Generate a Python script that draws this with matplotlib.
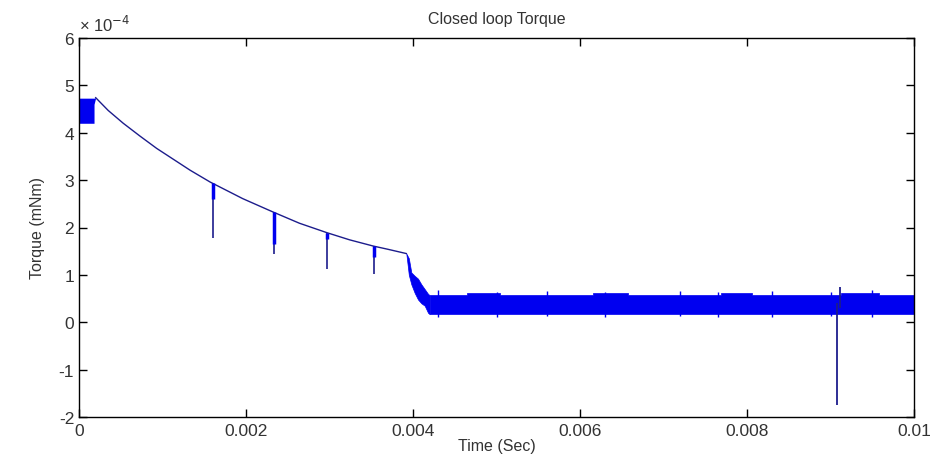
import matplotlib
matplotlib.use("Agg")
import matplotlib.pyplot as plt

plt.rcParams['font.family'] = ['Liberation Sans', 'DejaVu Sans']
plt.rcParams['axes.unicode_minus'] = False

# ---- data (torque in units of 1e-4) ----
decay_t = [0.0002, 0.00035, 0.00053, 0.00073, 0.00093, 0.00113, 0.00133, 0.00157,
           0.00196, 0.00232, 0.00264, 0.00297, 0.00324, 0.00352, 0.00370, 0.00392]
decay_v = [4.74, 4.47, 4.20, 3.93, 3.67, 3.44, 3.21, 2.96,
           2.61, 2.33, 2.09, 1.89, 1.74, 1.61, 1.54, 1.45]

start_t = [0.0, 0.00018, 0.00018, 0.0002]
start_top = [4.73, 4.73, 4.73, 4.74]
start_bot = [4.20, 4.20, 4.60, 4.74]

spike_t = [0.00160, 0.00233, 0.00297, 0.00353]
spike_top = [2.93, 2.32, 1.89, 1.61]
spike_bot = [1.78, 1.45, 1.12, 1.02]
spike_thick_bot = [2.60, 1.65, 1.75, 1.37]

drop_t = [0.00392, 0.00395, 0.00398, 0.00402, 0.00406, 0.00410, 0.00414, 0.00418, 0.0042]
drop_top = [1.45, 1.35, 1.05, 0.98, 0.92, 0.80, 0.70, 0.60, 0.57]
drop_bot = [1.45, 1.00, 0.80, 0.62, 0.48, 0.40, 0.35, 0.20, 0.17]

band_t = [0.0042, 0.00465, 0.00465, 0.00504, 0.00504, 0.00615, 0.00615, 0.00657,
          0.00657, 0.00769, 0.00769, 0.00806, 0.00806, 0.00913, 0.00913, 0.00958,
          0.00958, 0.0100]
band_top = [0.57, 0.57, 0.62, 0.62, 0.57, 0.57, 0.62, 0.62,
            0.57, 0.57, 0.62, 0.62, 0.57, 0.57, 0.62, 0.62,
            0.57, 0.57]
band_bot = [0.17] * len(band_t)

tick_t = [0.00430, 0.00500, 0.00560, 0.00630, 0.00720, 0.00765, 0.00830, 0.00900, 0.00950]
tick_lo = [0.12, 0.12, 0.13, 0.12, 0.13, 0.12, 0.12, 0.13, 0.12]
tick_hi = [0.68, 0.64, 0.66, 0.64, 0.65, 0.64, 0.66, 0.64, 0.68]

big_spike_t = [0.00908, 0.00911]
big_spike_lo = [-1.75, 0.30]
big_spike_hi = [0.40, 0.75]

xticks = [0, 0.002, 0.004, 0.006, 0.008, 0.01]
xtick_labels = ['0', '0.002', '0.004', '0.006', '0.008', '0.01']
yticks = [-2, -1, 0, 1, 2, 3, 4, 5, 6]

BLUE = '#0000f0'
LINE = '#1c1c8c'
TXT = '#333333'

fig = plt.figure(figsize=(9.36, 4.56), dpi=100)
ax = fig.add_axes([79/936, 1 - 418/456, (914-79)/936, (418-39)/456])

ax.fill_between(start_t, start_bot, start_top, color=BLUE, lw=0)
ax.plot(decay_t, decay_v, color=LINE, lw=1.0)
ax.vlines(spike_t, spike_bot, spike_top, color=LINE, lw=1.2)
ax.vlines(spike_t, spike_thick_bot, spike_top, color=BLUE, lw=2.5)
ax.fill_between(drop_t, drop_bot, drop_top, color=BLUE, lw=0.5, edgecolor=BLUE)
ax.fill_between(band_t, band_bot, band_top, color=BLUE, lw=0.5, edgecolor=BLUE)
ax.vlines(tick_t, tick_lo, tick_hi, color=BLUE, lw=1.0)
ax.vlines(big_spike_t, big_spike_lo, big_spike_hi, color=LINE, lw=1.3)

ax.set_xlim(0, 0.01)
ax.set_ylim(-2, 6)
ax.set_xticks(xticks)
ax.set_xticklabels(xtick_labels)
ax.set_yticks(yticks)
ax.tick_params(direction='in', length=6, top=True, right=True, labelsize=12.5,
               labelcolor=TXT, width=1)
ax.tick_params(axis='x', pad=4)
for s in ax.spines.values():
    s.set_linewidth(1.0)

ax.set_title('Closed loop Torque', fontsize=11.5, color=TXT, pad=11)
ax.set_xlabel('Time (Sec)', fontsize=11.5, color=TXT, labelpad=0)
ax.set_ylabel('Torque (mNm)', fontsize=11.5, color=TXT, labelpad=10)
ax.text(0.0, 1.01, '× 10$^{-4}$', transform=ax.transAxes, fontsize=12,
        color=TXT, ha='left', va='bottom')

fig.savefig('out.png', dpi=100)
